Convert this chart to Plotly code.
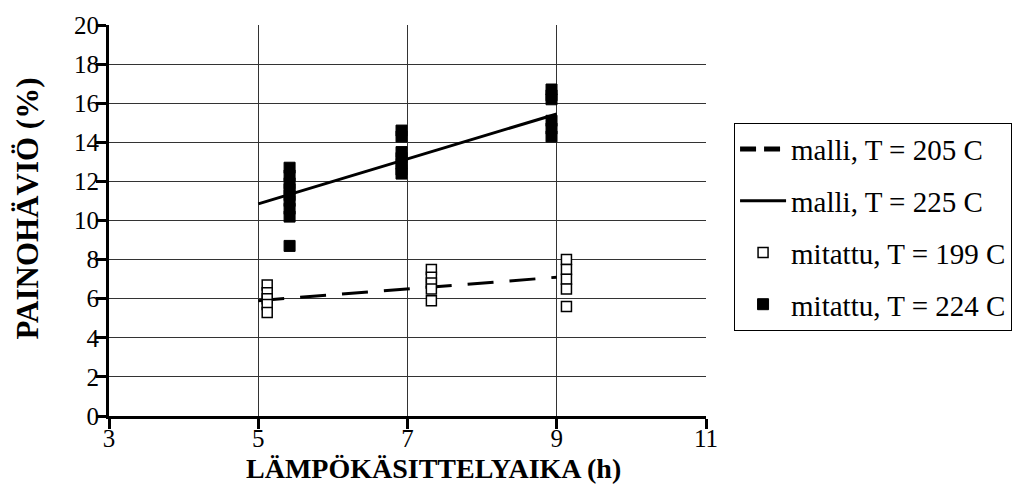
import plotly.graph_objects as go

# ---- data ----
x_model = [5.0, 9.0]
y_model_205 = [5.9, 7.1]
y_model_225 = [10.85, 15.45]

x_meas_199 = [5.12] * 5 + [7.32] * 5 + [9.13] * 5
y_meas_199 = [6.7, 6.3, 6.0, 5.7, 5.3,
              7.5, 7.1, 6.8, 6.5, 5.9,
              8.0, 7.5, 7.0, 6.5, 5.6]

x_meas_224 = [5.42] * 9 + [6.92] * 7 + [8.93] * 6
y_meas_224 = [12.7, 12.3, 11.9, 11.6, 11.3, 11.0, 10.6, 10.2, 8.7,
              14.6, 14.3, 13.5, 13.2, 12.9, 12.6, 12.4,
              16.7, 16.4, 16.2, 15.1, 14.7, 14.3]

names = ["malli, T = 205 C", "malli, T = 225 C",
         "mitattu, T = 199 C", "mitattu, T = 224 C"]

x_ticks = [3, 5, 7, 9, 11]
y_ticks = [0, 2, 4, 6, 8, 10, 12, 14, 16, 18, 20]

x_title = "LÄMPÖKÄSITTELYAIKA (h)"
y_title = "PAINOHÄVIÖ (%)"

FONT = "Liberation Serif"

fig = go.Figure()
# dashed model line (plot) + legend proxy with shorter dashes as in reference
fig.add_trace(go.Scatter(x=x_model, y=y_model_205, mode="lines", name=names[0],
                         legendgroup="a", showlegend=False,
                         line=dict(color="black", width=3, dash="26px,16px")))
fig.add_trace(go.Scatter(x=[None], y=[None], mode="lines", name=names[0],
                         legendgroup="a", showlegend=True,
                         line=dict(color="black", width=5, dash="16px,8px")))
fig.add_trace(go.Scatter(x=x_model, y=y_model_225, mode="lines", name=names[1],
                         legendgroup="b",
                         line=dict(color="black", width=3)))
fig.add_trace(go.Scatter(x=x_meas_199, y=y_meas_199, mode="markers", name=names[2],
                         legendgroup="c",
                         marker=dict(symbol="square", size=10, color="white",
                                     line=dict(color="black", width=1.5))))
fig.add_trace(go.Scatter(x=x_meas_224, y=y_meas_224, mode="markers", name=names[3],
                         legendgroup="d",
                         marker=dict(symbol="square", size=11, color="black",
                                     line=dict(color="black", width=1))))

axis_common = dict(showline=True, linecolor="black", linewidth=3,
                   ticks="outside", ticklen=10, tickwidth=3, tickcolor="black",
                   showgrid=True, gridcolor="#333333", gridwidth=1,
                   zeroline=False, ticklabeloverflow="allow",
                   tickfont=dict(family=FONT, size=25, color="black"))

fig.update_layout(
    width=1028, height=495,
    margin=dict(l=109, r=322, t=15, b=79),
    paper_bgcolor="white", plot_bgcolor="white",
    font=dict(family=FONT, color="black"),
    xaxis=dict(range=[3, 11], tickvals=x_ticks, ticklabelstandoff=-12,
               **axis_common),
    yaxis=dict(range=[0, 20], tickvals=y_ticks, ticklabelstandoff=-8,
               **axis_common),
    xaxis2=dict(range=[3, 11], tickvals=x_ticks, overlaying="x", anchor="y",
                side="bottom", ticks="inside", ticklen=10, tickwidth=3,
                tickcolor="black", showticklabels=False, showgrid=False,
                showline=False, zeroline=False),
    yaxis2=dict(range=[0, 20], tickvals=y_ticks, overlaying="y", anchor="x",
                side="left", ticks="inside", ticklen=10, tickwidth=3,
                tickcolor="black", showticklabels=False, showgrid=False,
                showline=False, zeroline=False),
    legend=dict(x=1.047, y=0.75, xanchor="left", yanchor="top",
                bordercolor="black", borderwidth=1, bgcolor="white",
                font=dict(family=FONT, size=29, color="black"),
                itemwidth=46,
                tracegroupgap=11, traceorder="grouped"),
    showlegend=True,
    annotations=[
        dict(text="<b>" + x_title + "</b>", xref="paper", yref="paper",
             x=0.543, y=-0.134, xanchor="center", yanchor="middle",
             showarrow=False, font=dict(family=FONT, size=28, color="black")),
        dict(text="<b>" + y_title + "</b>", xref="paper", yref="paper",
             x=-0.136, y=0.53, xanchor="center", yanchor="middle",
             textangle=-90, showarrow=False,
             font=dict(family=FONT, size=31, color="black")),
    ],
)

fig.write_html("out.html")
